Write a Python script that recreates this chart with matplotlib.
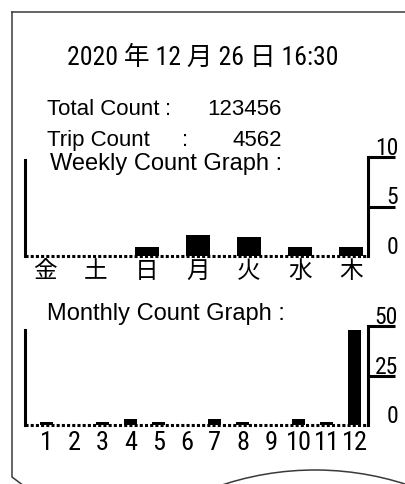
import matplotlib
matplotlib.use("Agg")
import matplotlib.pyplot as plt
import matplotlib.transforms as mtransforms
from matplotlib.patches import Arc

# weekly counts (Fri .. Thu)
weekdays = ["金", "土", "日", "月", "火", "水", "木"]
weekly_counts = [0, 0, 0.9, 2.1, 1.9, 0.9, 0.9]
weekly_ticks = [0, 5, 10]

# monthly counts (Jan .. Dec)
months = [1, 2, 3, 4, 5, 6, 7, 8, 9, 10, 11, 12]
monthly_counts = [1.7, 0, 1.7, 3.2, 1.7, 0, 3.2, 1.7, 0, 3.2, 1.7, 48]
monthly_ticks = [0, 25, 50]

timestamp = "2020 年 12 月 26 日 16:30"
total_count = "123456"
trip_count = "4562"

BODY = ["Liberation Sans", "DejaVu Sans"]
NARROW = ["Roboto Condensed", "DejaVu Sans"]
MIXED = ["Roboto Condensed", "Noto Sans CJK JP", "DejaVu Sans"]
CJK = ["Noto Sans CJK JP", "DejaVu Sans"]

W, H = 406, 484
fig = plt.figure(figsize=(W / 100, H / 100), dpi=100)

# background layer in pixel units for the receipt outline and the header text
bg = fig.add_axes([0, 0, 1, 1], zorder=0)
bg.set_xlim(0, W)
bg.set_ylim(H, 0)
bg.axis("off")

edge = "#3a3a3a"
bg.plot([12, 12, 24], [12, 477, 486], color=edge, lw=1.1, solid_joinstyle="miter")
bg.plot([12, W + 2], [12, 12], color=edge, lw=1.1)
bg.add_patch(Arc((315, 766), 592, 592, theta1=250, theta2=291, color=edge, lw=1.1))

bg.text(67, 65, timestamp, fontsize=18.5, family=MIXED, ha="left", va="baseline")
bg.text(47, 115, "Total Count", fontsize=16, family=BODY, va="baseline")
bg.text(168, 115, ":", fontsize=16, family=BODY, ha="center", va="baseline")
bg.text(282, 115, total_count, fontsize=16, family=BODY, ha="right", va="baseline")
bg.text(47, 146, "Trip Count", fontsize=16, family=BODY, va="baseline")
bg.text(185, 146, ":", fontsize=16, family=BODY, ha="center", va="baseline")
bg.text(282, 146, trip_count, fontsize=16, family=BODY, ha="right", va="baseline")
bg.text(50, 170, "Weekly Count Graph :", fontsize=17, family=BODY, va="baseline")
bg.text(47, 320, "Monthly Count Graph :", fontsize=17, family=BODY, va="baseline")


def count_axes(rect, xs, counts, xlim, ylim, left_top, bar_w, labels, label_font, label_size, ticks, pad):
    ax = fig.add_axes(rect, zorder=1)
    ax.set_facecolor("none")
    ax.bar(xs, counts, width=bar_w, color="black", zorder=2)
    ax.axhline(0, color="black", lw=2.2, ls=(0, (1, 0.7)), zorder=3, clip_on=False)
    ax.set_xlim(*xlim)
    ax.set_ylim(*ylim)
    for s in ("top", "bottom"):
        ax.spines[s].set_visible(False)
    ax.spines["left"].set_linewidth(2.2)
    ax.spines["left"].set_bounds(0, left_top)
    ax.spines["right"].set_linewidth(2.2)
    ax.yaxis.tick_right()
    ax.set_yticks(ticks[1:])
    ax.tick_params(axis="y", length=19.5, width=2.2, labelright=False)
    ax.set_xticks(xs)
    ax.set_xticklabels(labels, family=label_font, fontsize=label_size)
    ax.tick_params(axis="x", length=0, pad=pad)
    trans = mtransforms.offset_copy(ax.get_yaxis_transform(), fig=fig, y=2, units="dots")
    for t in ticks:
        ax.text(1.0875, t, str(t), transform=trans, fontsize=17, family=NARROW,
                ha="right", va="baseline")
    return ax


count_axes([25 / W, (H - 256) / H, 343 / W, 99 / H], list(range(len(weekdays))), weekly_counts,
           (-20 / 51, 323 / 51), (0, 10), 9.7, 24 / 51, weekdays, CJK, 17, weekly_ticks, 3)

count_axes([25 / W, (H - 425) / H, 343 / W, 99 / H], months, monthly_counts,
           (1 - 21.7 / 28, 1 + 321.3 / 28), (0, 50), 48, 13 / 28,
           [str(m) for m in months], NARROW, 19, monthly_ticks, 4)

fig.savefig("out.png", dpi=100)
